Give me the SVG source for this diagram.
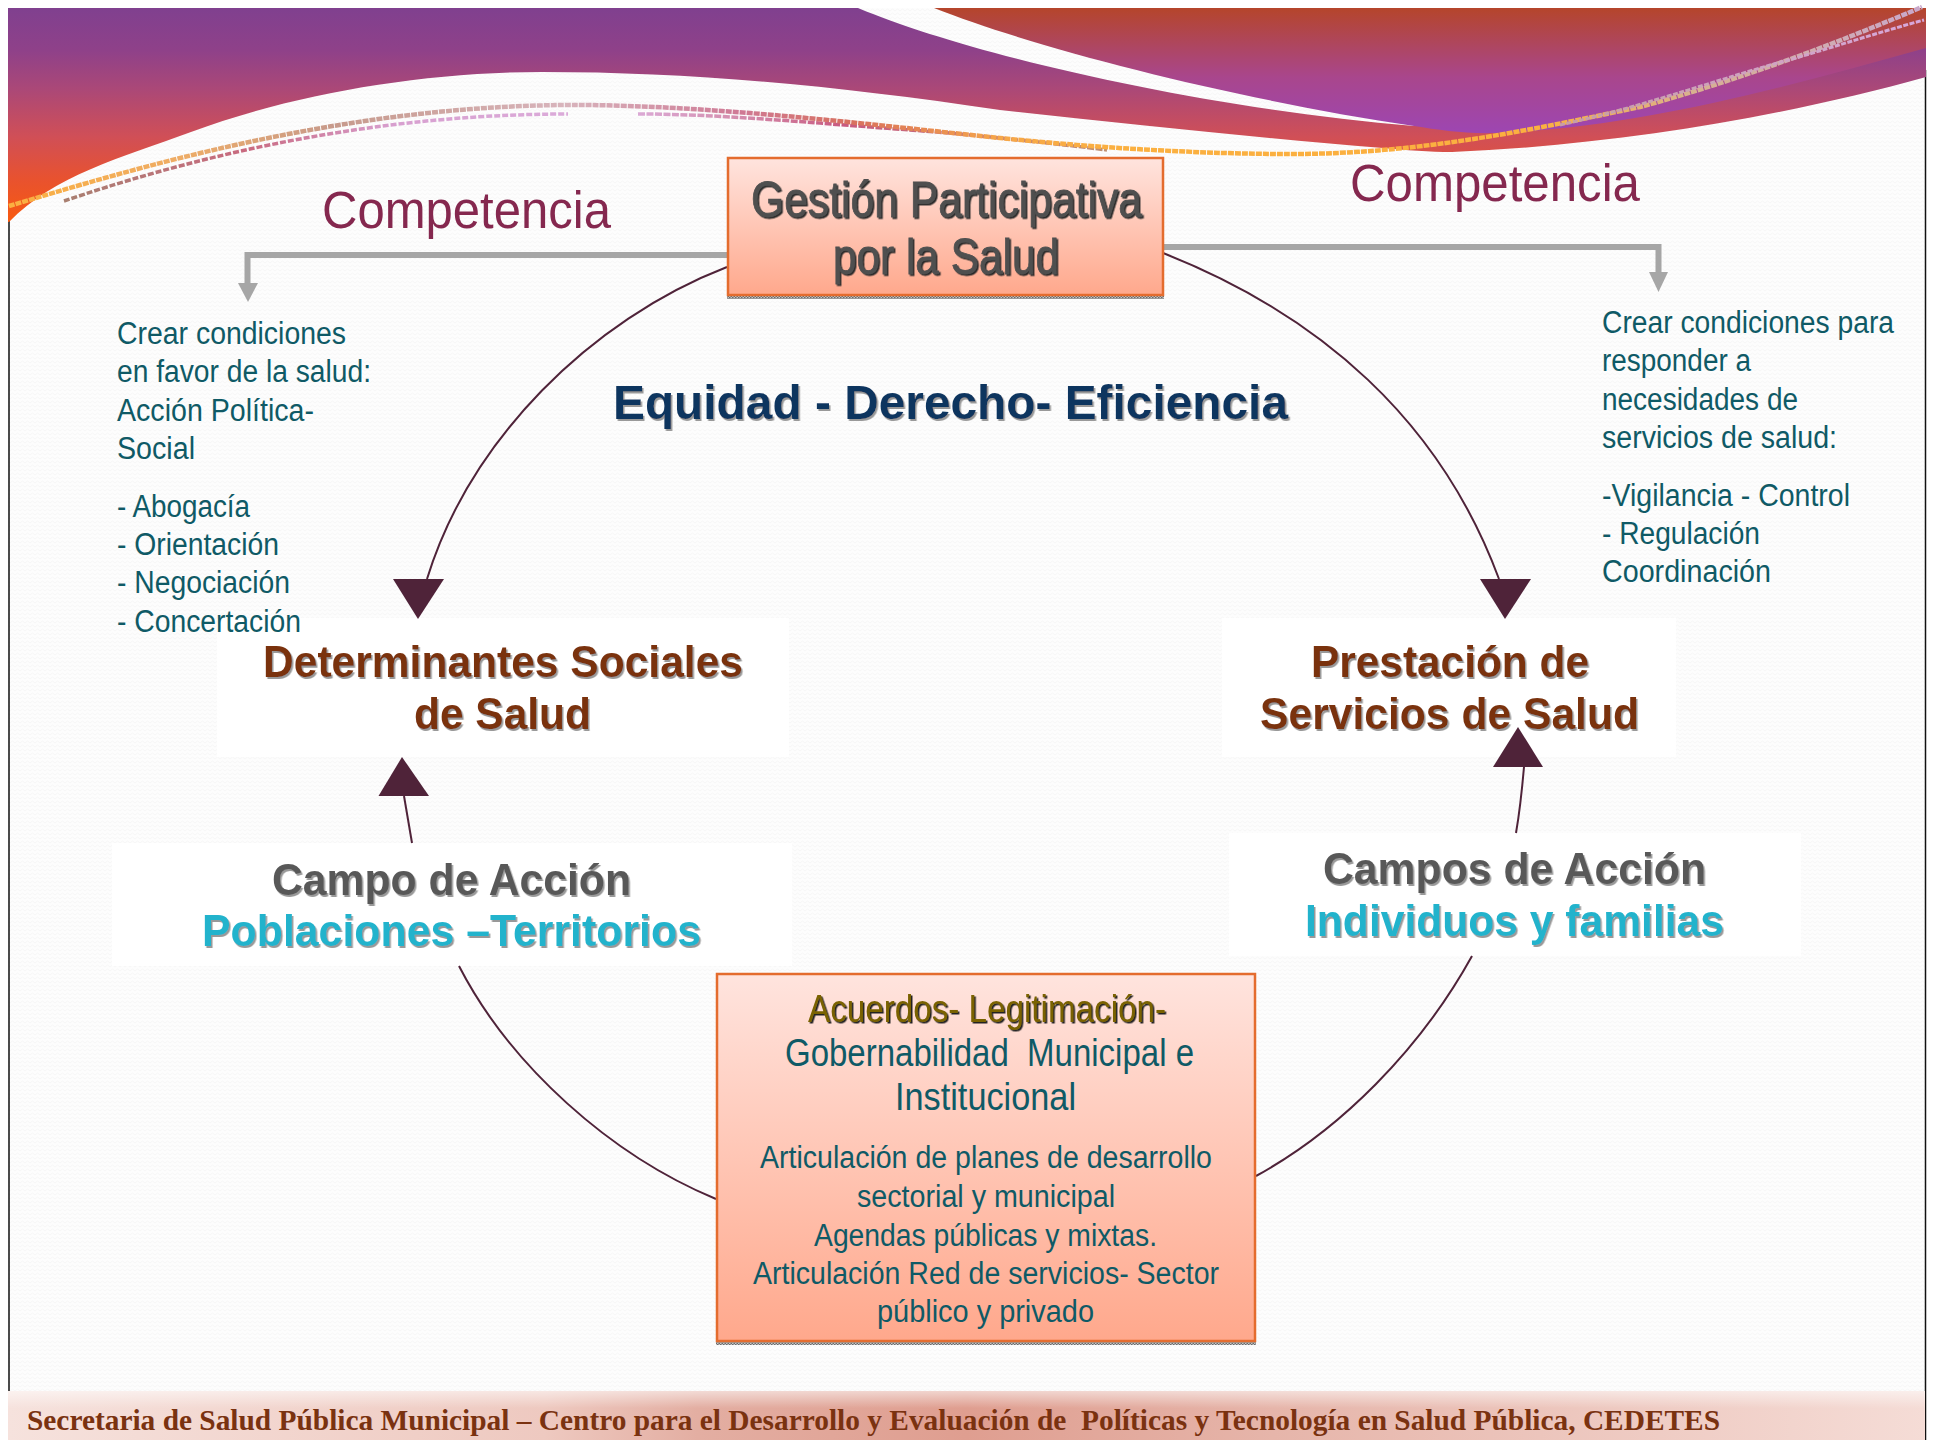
<svg xmlns="http://www.w3.org/2000/svg" width="1933" height="1440" viewBox="0 0 1933 1440">
<style>
.t{font-family:"Liberation Sans",Arial,sans-serif;fill:#0f5a66;font-size:31px}
.c{font-family:"Liberation Sans",Arial,sans-serif;fill:#85284f;font-size:51px}
.h{font-family:"Liberation Sans",Arial,sans-serif;font-weight:bold;font-size:44px;filter:url(#sh)}
.br{fill:#7a3210}.gr{fill:#595959}.cy{fill:#21b3cc}
.arc{fill:none;stroke:#4f2339;stroke-width:2}
.head{fill:#4f2339}
.grey{fill:none;stroke:#a6a6a6;stroke-width:6}
.greyh{fill:#a6a6a6}
.box{stroke:#e46c2e;stroke-width:2.5}
</style>
<defs>
<pattern id="zig" width="10" height="8" patternUnits="userSpaceOnUse"><rect width="10" height="8" fill="#fdfdfd"/><path d="M0 3 L2.500 1 L5 3 L7.500 1 L10 3 M0 7 L2.500 5 L5 7 L7.500 5 L10 7" fill="none" stroke="#f7f7f7" stroke-width="1"/></pattern>
<pattern id="dith" width="3" height="3" patternUnits="userSpaceOnUse"><rect width="3" height="3" fill="#c4c4c4"/><rect width="1.500" height="1.500" fill="#6a6a6a"/><rect x="1.500" y="1.500" width="1.500" height="1.500" fill="#6a6a6a"/></pattern>
<linearGradient id="low" gradientUnits="userSpaceOnUse" x1="0" y1="8" x2="0" y2="222"><stop offset="0" stop-color="#80408f"/><stop offset=".2" stop-color="#8f4189"/><stop offset=".38" stop-color="#ab4877"/><stop offset=".6" stop-color="#d04f57"/><stop offset=".8" stop-color="#e8522f"/><stop offset="1" stop-color="#f85a10"/></linearGradient>
<linearGradient id="up" gradientUnits="userSpaceOnUse" x1="0" y1="8" x2="0" y2="133"><stop offset="0" stop-color="#b5452b"/><stop offset=".3" stop-color="#ae4660"/><stop offset=".55" stop-color="#a9468c"/><stop offset="1" stop-color="#9d46b2"/></linearGradient>
<linearGradient id="boxg" x1="0" y1="0" x2="0" y2="1"><stop offset="0" stop-color="#ffe4de"/><stop offset="1" stop-color="#ffa88c"/></linearGradient>
<linearGradient id="foot" gradientUnits="userSpaceOnUse" x1="8" y1="0" x2="1925" y2="0"><stop offset="0" stop-color="#f6e2dd"/><stop offset=".28" stop-color="#eec9c0"/><stop offset=".36" stop-color="#e3aea2"/><stop offset=".5" stop-color="#df9e90"/><stop offset=".66" stop-color="#e6b5aa"/><stop offset="1" stop-color="#f5dcd6"/></linearGradient>
<linearGradient id="footfade" x1="0" y1="0" x2="0" y2="1"><stop offset="0" stop-color="#fff" stop-opacity=".55"/><stop offset=".35" stop-color="#fff" stop-opacity="0"/></linearGradient>
<linearGradient id="bead" gradientUnits="userSpaceOnUse" x1="9" y1="0" x2="1925" y2="0"><stop offset="0" stop-color="#fbb040"/><stop offset=".09" stop-color="#eeac66"/><stop offset=".17" stop-color="#c79a8c"/><stop offset=".29" stop-color="#d8b4bc"/><stop offset=".38" stop-color="#cf7a96"/><stop offset=".44" stop-color="#d8705e"/><stop offset=".52" stop-color="#f7a848"/><stop offset=".58" stop-color="#fbb040"/><stop offset=".8" stop-color="#fbb040"/><stop offset=".88" stop-color="#d8b090"/><stop offset="1" stop-color="#c9a8cc"/></linearGradient>
<linearGradient id="bead2" gradientUnits="userSpaceOnUse" x1="60" y1="0" x2="1925" y2="0"><stop offset="0" stop-color="#a88070"/><stop offset=".1" stop-color="#c96a80"/><stop offset=".18" stop-color="#d8a0d0"/><stop offset=".3" stop-color="#dcaedc"/><stop offset=".36" stop-color="#d590b0"/><stop offset=".42" stop-color="#c85a80"/><stop offset=".56" stop-color="#c09070"/><stop offset=".85" stop-color="#c9a0b0"/><stop offset="1" stop-color="#d8a8dc"/></linearGradient>
<filter id="sh" x="-5%" y="-15%" width="110%" height="130%"><feDropShadow dx="1.500" dy="2" stdDeviation=".4" flood-color="#999"/></filter>
<filter id="shg" x="-5%" y="-15%" width="110%" height="130%"><feDropShadow dx="1.500" dy="1.500" stdDeviation=".2" flood-color="#2a2a2a"/></filter>
<filter id="shd" x="-5%" y="-15%" width="110%" height="130%"><feDropShadow dx="1.500" dy="1.500" stdDeviation=".2" flood-color="#222"/></filter>
</defs>

<g id="background">
<rect width="1933" height="1440" fill="#fff"/>
<rect x="8" y="8" width="1917" height="1432" fill="url(#zig)"/>
<path d="M9 220 V1440 M1925.500 70 V1440" fill="none" stroke="#111" stroke-width="1.500"/>
</g>
<g id="header">
<path d="M8 8 H858 C 970 55 1200 108 1414 126 L1495 125 C 1640 110 1770 70 1926 38 V77 C 1790 115 1620 145 1452 152 C 1430 152 1405 150 1383 148 C 1260 138 1130 124 1000 110 C 830 85 690 72 542 72 C 420 72 290 95 191 132 C 120 158 55 175 9 222 L8 222 Z" fill="url(#low)"/>
<path d="M934 8 H1926 V48 C 1770 92 1630 128 1495 133 C 1465 134 1440 130 1414 126 C 1240 100 1040 50 934 8 Z" fill="url(#up)"/>
<path d="M64 201 C 170 165 350 114 568 114" fill="none" stroke="url(#bead2)" stroke-width="3.500" stroke-dasharray="6 2"/>
<path d="M638 114 C 720 114 800 122 950 133 C 1000 138 1060 144 1107 150" fill="none" stroke="url(#bead2)" stroke-width="3.500" stroke-dasharray="7 1.500"/>
<path d="M9 206 C 130 170 340 105 574 105 C 720 105 900 128 1000 138 C 1100 148 1200 154 1290 154 C 1420 154 1530 130 1640 107 C 1740 80 1840 42 1922 7" fill="none" stroke="url(#bead)" stroke-width="4.500" stroke-dasharray="6 1"/>
<path d="M1560 125 C 1650 105 1730 75 1796 58 C 1840 45 1880 32 1924 20" fill="none" stroke="url(#bead2)" stroke-width="3" stroke-dasharray="5 1.500"/>
</g>

<g id="white-panels">
<rect x="217" y="618" width="572" height="139" fill="#fff"/>
<rect x="112" y="843" width="680" height="123" fill="#fff"/>
<rect x="1222" y="618" width="454" height="139" fill="#fff"/>
<rect x="1229" y="833" width="572" height="123" fill="#fff"/>
</g>

<g id="connectors">
<path class="arc" d="M727 267 C 590 320 470 440 427 579"/>
<path class="head" d="M393 579 H444 L418 619 Z"/>
<path class="arc" d="M1163 253 C 1320 315 1440 420 1499 579"/>
<path class="head" d="M1480 579 H1531 L1505 619 Z"/>
<path class="arc" d="M412 843 L404 796"/>
<path class="head" d="M402 757 L429 796 H378.500 Z"/>
<path class="arc" d="M1516 833 C 1520 810 1522 790 1524 767"/>
<path class="head" d="M1518 727 L1543 767 H1493 Z"/>
<path class="arc" d="M459 966 C 510 1065 610 1155 716 1199"/>
<path class="arc" d="M1472 956 C 1420 1050 1340 1130 1256 1176"/>
<path class="grey" d="M727 255 H247.500 V286"/>
<path class="greyh" d="M238 283 H258 L248 302 Z"/>
<path class="grey" d="M1163 247 H1658.500 V275"/>
<path class="greyh" d="M1649 272 H1668 L1658.500 292 Z"/>
</g>

<g id="competencia-left"><text class="c" x="322" y="228" textLength="289" lengthAdjust="spacingAndGlyphs">Competencia</text></g>
<g id="competencia-right"><text class="c" x="1350" y="201" textLength="290" lengthAdjust="spacingAndGlyphs">Competencia</text></g>

<g id="gestion">
<rect x="727" y="295" width="437" height="4" fill="url(#dith)"/>
<rect class="box" x="728" y="158" width="435" height="137" fill="url(#boxg)"/>
<g style="font-family:'Liberation Sans',Arial,sans-serif;font-size:50px;fill:#505050;stroke:#505050;stroke-width:.8px;filter:url(#shg)">
<text x="751" y="217" textLength="391" lengthAdjust="spacingAndGlyphs">Gestión Participativa</text>
<text x="833" y="274" textLength="226" lengthAdjust="spacingAndGlyphs">por la Salud</text>
</g>
</g>

<g id="equidad"><text class="h" style="fill:#10355f;font-size:48px" x="613" y="419" textLength="675" lengthAdjust="spacingAndGlyphs">Equidad - Derecho- Eficiencia</text></g>

<g id="texto-izquierda">
<text class="t" x="117" y="344" textLength="229" lengthAdjust="spacingAndGlyphs">Crear condiciones</text>
<text class="t" x="117" y="382" textLength="254" lengthAdjust="spacingAndGlyphs">en favor de la salud:</text>
<text class="t" x="117" y="421" textLength="197" lengthAdjust="spacingAndGlyphs">Acción Política-</text>
<text class="t" x="117" y="459" textLength="78" lengthAdjust="spacingAndGlyphs">Social</text>
<text class="t" x="117" y="517" textLength="133" lengthAdjust="spacingAndGlyphs">- Abogacía</text>
<text class="t" x="117" y="555" textLength="162" lengthAdjust="spacingAndGlyphs">- Orientación</text>
<text class="t" x="117" y="593" textLength="173" lengthAdjust="spacingAndGlyphs">- Negociación</text>
<text class="t" x="117" y="632" textLength="184" lengthAdjust="spacingAndGlyphs">- Concertación</text>
</g>

<g id="texto-derecha">
<text class="t" x="1602" y="333" textLength="292" lengthAdjust="spacingAndGlyphs">Crear condiciones para</text>
<text class="t" x="1602" y="371" textLength="149" lengthAdjust="spacingAndGlyphs">responder a</text>
<text class="t" x="1602" y="410" textLength="196" lengthAdjust="spacingAndGlyphs">necesidades de</text>
<text class="t" x="1602" y="448" textLength="235" lengthAdjust="spacingAndGlyphs">servicios de salud:</text>
<text class="t" x="1602" y="506" textLength="248" lengthAdjust="spacingAndGlyphs">-Vigilancia - Control</text>
<text class="t" x="1602" y="544" textLength="158" lengthAdjust="spacingAndGlyphs">- Regulación</text>
<text class="t" x="1602" y="582" textLength="169" lengthAdjust="spacingAndGlyphs">Coordinación</text>
</g>

<g id="determinantes">
<text class="h br" x="263" y="677" textLength="480" lengthAdjust="spacingAndGlyphs">Determinantes Sociales</text>
<text class="h br" x="414" y="729" textLength="177" lengthAdjust="spacingAndGlyphs">de Salud</text>
</g>
<g id="prestacion">
<text class="h br" x="1311" y="677" textLength="278" lengthAdjust="spacingAndGlyphs">Prestación de</text>
<text class="h br" x="1260" y="729" textLength="379" lengthAdjust="spacingAndGlyphs">Servicios de Salud</text>
</g>
<g id="campo-accion">
<text class="h gr" x="272" y="895" textLength="359" lengthAdjust="spacingAndGlyphs">Campo de Acción</text>
<text class="h cy" x="202" y="946" textLength="499" lengthAdjust="spacingAndGlyphs">Poblaciones –Territorios</text>
</g>
<g id="campos-accion">
<text class="h gr" x="1323" y="884" textLength="383" lengthAdjust="spacingAndGlyphs">Campos de Acción</text>
<text class="h cy" x="1305" y="936" textLength="419" lengthAdjust="spacingAndGlyphs">Individuos y familias</text>
</g>

<g id="acuerdos">
<rect x="716" y="1341" width="540" height="4" fill="url(#dith)"/>
<rect class="box" x="717" y="974" width="538" height="367" fill="url(#boxg)"/>
<text x="808" y="1022" textLength="358" lengthAdjust="spacingAndGlyphs" style="font-family:'Liberation Sans',Arial,sans-serif;font-size:38px;fill:#7a6200;filter:url(#shd)">Acuerdos- Legitimación-</text>
<text class="t" style="font-size:38px" x="785" y="1066" textLength="409" lengthAdjust="spacingAndGlyphs" xml:space="preserve">Gobernabilidad  Municipal e</text>
<text class="t" style="font-size:38px" x="895" y="1110" textLength="181" lengthAdjust="spacingAndGlyphs">Institucional</text>
<text class="t" x="760" y="1168" textLength="452" lengthAdjust="spacingAndGlyphs">Articulación de planes de desarrollo</text>
<text class="t" x="857" y="1207" textLength="258" lengthAdjust="spacingAndGlyphs">sectorial y municipal</text>
<text class="t" x="814" y="1246" textLength="343" lengthAdjust="spacingAndGlyphs">Agendas públicas y mixtas.</text>
<text class="t" x="753" y="1284" textLength="466" lengthAdjust="spacingAndGlyphs">Articulación Red de servicios- Sector</text>
<text class="t" x="877" y="1322" textLength="217" lengthAdjust="spacingAndGlyphs">público y privado</text>
</g>

<g id="pie">
<rect x="8" y="1391" width="1917" height="49" fill="url(#foot)"/>
<rect x="8" y="1391" width="1917" height="49" fill="url(#footfade)"/>
<text x="27" y="1430" textLength="1693" lengthAdjust="spacingAndGlyphs" xml:space="preserve" style="font-family:'Liberation Serif','Times New Roman',serif;font-weight:bold;font-size:30px;fill:#7a3210">Secretaria de Salud Pública Municipal – Centro para el Desarrollo y Evaluación de  Políticas y Tecnología en Salud Pública, CEDETES</text>
</g>
</svg>
